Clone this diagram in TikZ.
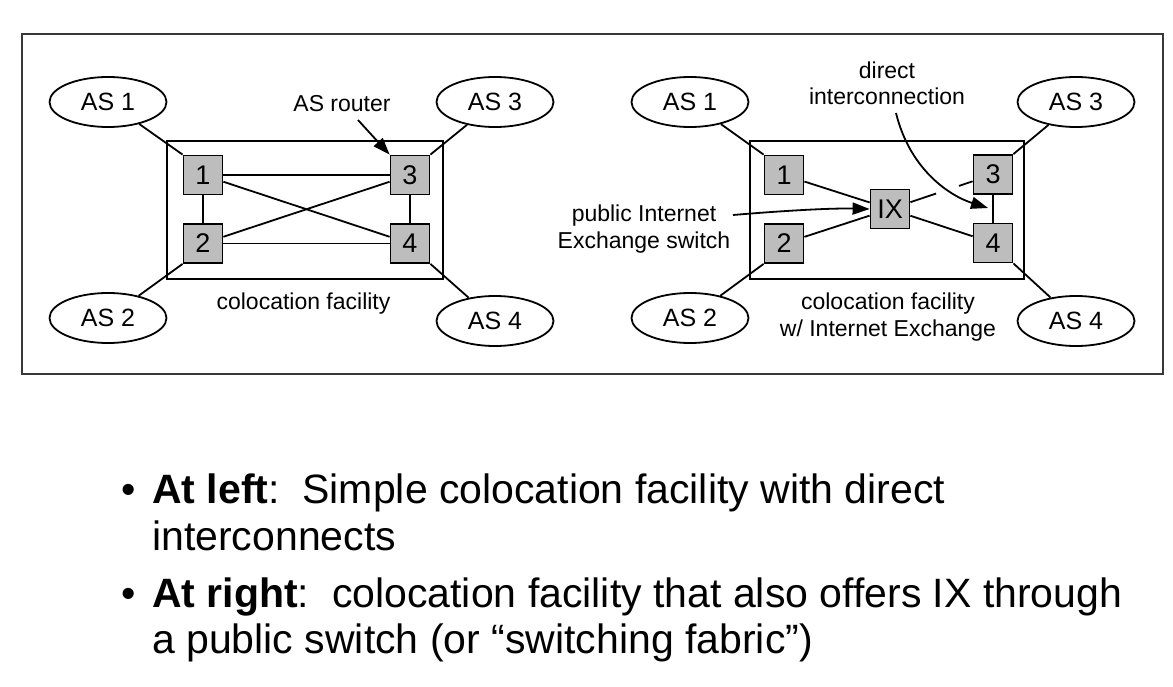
\documentclass[tikz,border=0pt]{standalone}
\usepackage{fontspec}
\setmainfont{Liberation Sans}
\usetikzlibrary{shapes.geometric,arrows.meta,calc}
\definecolor{routergray}{gray}{0.74}
\definecolor{framegray}{gray}{0.22}
\begin{document}
\begin{tikzpicture}[x=1pt,y=-1pt,
  asnode/.style={draw,ellipse,line width=1.8pt,minimum width=117pt,minimum height=50pt,inner sep=0pt,font=\fontsize{25}{29}\selectfont},
  router/.style={draw,fill=routergray,line width=1.8pt,minimum size=39pt,inner sep=0pt,font=\fontsize{27}{31}\selectfont},
  link/.style={line width=1.8pt},
  lbl/.style={font=\fontsize{23}{27}\selectfont,inner sep=0pt,anchor=base},
  fac/.style={draw,line width=1.8pt,inner sep=0pt},
  ptr/.style={line width=1.8pt,-{Triangle[length=17pt,width=12pt]}},
  bul/.style={font=\fontsize{41}{48}\selectfont,inner sep=0pt,anchor=base west},
  bdot/.style={font=\fontsize{41}{48}\selectfont,inner sep=0pt,anchor=base}
]
\fill[white] (0,0) rectangle (1173,687);
\useasboundingbox (0,0) rectangle (1173,687);
\draw[line width=1.5pt,draw=framegray] (22,34) rectangle (1163,374);

% ---------- left diagram ----------
\node[fac,minimum width=276pt,minimum height=138pt] (facL) at (305,210) {};
\node[asnode] (LA1) at (108,102) {AS 1};
\node[asnode] (LA3) at (495,102) {AS 3};
\node[asnode] (LA2) at (108,318) {AS 2};
\node[asnode] (LA4) at (495,321) {AS 4};
\node[router] (Lr1) at (203,175) {1};
\node[router] (Lr3) at (410,175) {3};
\node[router] (Lr2) at (203,243.5) {2};
\node[router] (Lr4) at (410,243.5) {4};
\draw[link] (LA1) -- (Lr1.north west);
\draw[link] (LA3) -- (Lr3.north east);
\draw[link] (LA2) -- (Lr2.south west);
\draw[link] (LA4) -- (Lr4.south east);
\draw[link] (Lr1) -- (Lr3);
\draw[link] (Lr2) -- (Lr4);
\draw[link] (Lr1) -- (Lr2);
\draw[link] (Lr3) -- (Lr4);
\draw[link] (Lr1) -- (Lr4);
\draw[link] (Lr2) -- (Lr3);
\node[lbl] (Lrouter) at (342,112) {AS router};
\coordinate (Lptr) at (358,120);
\draw[ptr] (Lptr) -- (Lr3.north west);
\node[lbl] (Lfac) at (303.5,309) {colocation facility};

% ---------- right diagram ----------
\node[fac,minimum width=274pt,minimum height=138pt] (facR) at (887,210) {};
\node[asnode] (RA1) at (690,102) {AS 1};
\node[asnode] (RA3) at (1076,102) {AS 3};
\node[asnode] (RA2) at (690,318) {AS 2};
\node[asnode] (RA4) at (1076,321) {AS 4};
\node[router] (Rr1) at (784,175) {1};
\node[router] (Rr2) at (784,243.5) {2};
\node[router] (IX) at (890,209) {IX};
\node[router] (Rr3) at (993,174.5) {3};
\node[router] (Rr4) at (993,243) {4};
\draw[link] (RA1) -- (Rr1.north west);
\draw[link] (RA3) -- (Rr3.north east);
\draw[link] (RA2) -- (Rr2.south west);
\draw[link] (RA4) -- (Rr4.south east);
\draw[link] (Rr1) -- (IX);
\draw[link] (Rr2) -- (IX);
\draw[link] (IX) -- (Rr4);
\draw[link] (IX) -- ($(IX)!0.447!(Rr3)$);
\draw[link] ($(IX)!0.67!(Rr3)$) -- (Rr3);
\draw[link] (Rr3) -- (Rr4);
\node[lbl] (Rdirect) at (887,79) {direct};
\node[lbl] (Rinter) at (887,105) {interconnection};
\coordinate (Rdstart) at (896,113);
\coordinate (Rdtip) at (988,208);
\draw[ptr] (Rdstart) .. controls (910,170) and (950,196) .. (Rdtip);
\node[lbl] (Rpub) at (644,222) {public Internet};
\node[lbl] (Rexch) at (644,248) {Exchange switch};
\coordinate (Rpstart) at (733,215);
\draw[ptr] (Rpstart) .. controls (780,211) and (830,208) .. (IX.west);
\node[lbl] (Rfac) at (888,309) {colocation facility};
\node[lbl] (Rfac2) at (888,336) {w/ Internet Exchange};

% ---------- bullets ----------
\node[bdot] (b1) at (129,503) {•};
\node[bul] (t1) at (152,503) {\bfseries At left\mdseries:\ \ Simple colocation facility with direct};
\node[bul] (t2) at (152,550) {interconnects};
\node[bdot] (b2) at (129,607) {•};
\node[bul] (t3) at (152,607) {\bfseries At right\mdseries:\ \ colocation facility that also offers IX through};
\node[bul] (t4) at (152,653) {a public switch (or “switching fabric”)};
\end{tikzpicture}
\end{document}
